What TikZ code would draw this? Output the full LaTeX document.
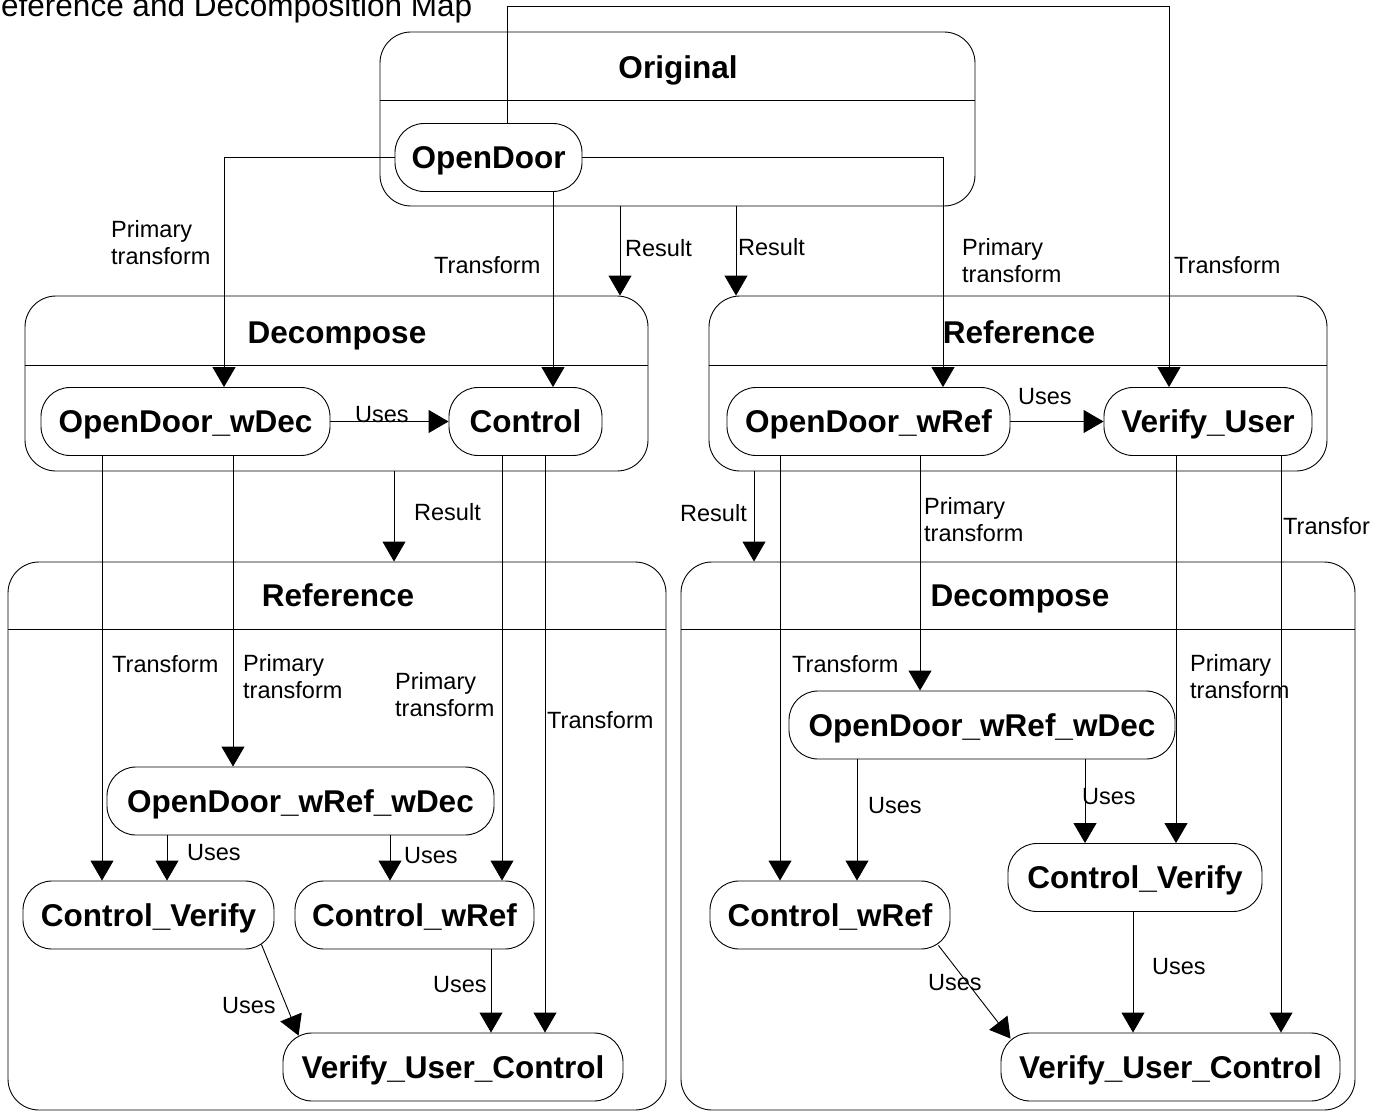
\documentclass[tikz,border=0pt]{standalone}
\usepackage{fontspec}
\setmainfont{Liberation Sans}
\usetikzlibrary{arrows.meta,calc}
\begin{document}
\begin{tikzpicture}[x=1pt,y=-1pt,
  frame/.style={draw, rounded corners=31pt, line width=0.9pt, inner sep=0pt},
  pill/.style={draw, fill=white, rounded corners=29pt, line width=0.9pt, inner sep=0pt,
    minimum height=68pt, font=\fontsize{31.5}{36}\selectfont\bfseries,
    text height=22.5pt, text depth=0pt},
  head/.style={font=\fontsize{31.5}{36}\selectfont\bfseries, inner sep=0pt,
    text height=22.5pt, text depth=0pt},
  lbl/.style={font=\fontsize{23.5}{27}\selectfont, inner sep=0pt, anchor=west, align=left},
  conn/.style={line width=0.9pt},
  arr/.style={line width=0.9pt, -{Triangle[width=23pt,length=20pt]}}
]
\useasboundingbox (0,0) rectangle (1385,1113);
\clip (0,0) rectangle (1385,1113);

% page heading
\node[font=\fontsize{31.5}{36}\selectfont, anchor=base west, inner sep=0pt] (title) at (1,17)
  {eference and Decomposition Map};

% ---- containers: rounded frame, header rule, title ----
\node[frame, minimum width=595pt, minimum height=174pt] (orig) at (677.5,119) {};
\draw[conn] (orig.west |- 0,100) -- (orig.east |- 0,100);
\node[head] (origT) at (678,67) {Original};

\node[frame, minimum width=623pt, minimum height=175pt] (decA) at (336.5,383.5) {};
\draw[conn] (decA.west |- 0,365) -- (decA.east |- 0,365);
\node[head] (decAT) at (337,332) {Decompose};

\node[frame, minimum width=618pt, minimum height=175pt] (refA) at (1018,383.5) {};
\draw[conn] (refA.west |- 0,365) -- (refA.east |- 0,365);
\node[head] (refAT) at (1019,332) {Reference};

\node[frame, minimum width=658pt, minimum height=548pt] (refB) at (337,836) {};
\draw[conn] (refB.west |- 0,629) -- (refB.east |- 0,629);
\node[head] (refBT) at (338,595) {Reference};

\node[frame, minimum width=674pt, minimum height=548pt] (decB) at (1018,836) {};
\draw[conn] (decB.west |- 0,629) -- (decB.east |- 0,629);
\node[head] (decBT) at (1020,595) {Decompose};

% ---- states ----
\node[pill, minimum width=187pt] (od)     at (488.5,157.5) {OpenDoor};
\node[pill, minimum width=289pt] (odwdec) at (185.5,421.5) {OpenDoor\_wDec};
\node[pill, minimum width=153pt] (ctrl)   at (525.5,421.5) {Control};
\node[pill, minimum width=283pt] (odwref) at (868.5,421.5) {OpenDoor\_wRef};
\node[pill, minimum width=208pt] (vu)     at (1208,421.5)  {Verify\_User};

\node[pill, minimum width=387pt] (odrdA) at (300.5,801) {OpenDoor\_wRef\_wDec};
\node[pill, minimum width=251pt] (cvA)   at (148.5,915) {Control\_Verify};
\node[pill, minimum width=239pt] (cwA)   at (414.5,915) {Control\_wRef};
\node[pill, minimum width=340pt] (vucA)  at (453,1067)  {Verify\_User\_Control};

\node[pill, minimum width=386pt] (odrdB) at (982,725)    {OpenDoor\_wRef\_wDec};
\node[pill, minimum width=254pt] (cvB)   at (1135,877.5) {Control\_Verify};
\node[pill, minimum width=240pt] (cwB)   at (830,915)    {Control\_wRef};
\node[pill, minimum width=339pt] (vucB)  at (1170.5,1067){Verify\_User\_Control};

% ---- connectors from OpenDoor ----
\coordinate (topr) at (1169,6);
\draw[arr] (od.north -| 507,0) |- (topr) -- (vu.north -| topr);
\draw[arr] (od.west) -| (odwdec.north -| 224,0);
\draw[arr] (od.east) -| (odwref.north -| 943,0);
\draw[arr] (od.south -| 553,0) -- (ctrl.north -| 553,0);
\draw[arr] (orig.south -| 620,0) -- (decA.north -| 620,0);
\draw[arr] (orig.south -| 736,0) -- (refA.north -| 736,0);

% ---- second row ----
\draw[arr] (odwdec.east) -- (ctrl.west);
\draw[arr] (odwref.east) -- (vu.west);
\draw[arr] (decA.south -| 394,0) -- (refB.north -| 394,0);
\draw[arr] (refA.south -| 754,0) -- (decB.north -| 754,0);

% ---- into the lower left frame ----
\draw[arr] (odwdec.south -| 102,0) -- (cvA.north -| 102,0);
\draw[arr] (odwdec.south -| 233,0) -- (odrdA.north -| 233,0);
\draw[arr] (ctrl.south -| 502,0) -- (cwA.north -| 502,0);
\draw[arr] (ctrl.south -| 545,0) -- (vucA.north -| 545,0);
\draw[arr] (odrdA.south -| 167,0) -- (cvA.north -| 167,0);
\draw[arr] (odrdA.south -| 390,0) -- (cwA.north -| 390,0);
\draw[arr] ($(cvA.south east)+(-13,-5)$) -- ($(vucA.north west)+(16,3)$);
\draw[arr] (cwA.south -| 491,0) -- (vucA.north -| 491,0);

% ---- into the lower right frame ----
\draw[arr] (odwref.south -| 780,0) -- (cwB.north -| 780,0);
\draw[arr] (odwref.south -| 920,0) -- (odrdB.north -| 920,0);
\draw[arr] (vu.south -| 1176,0) -- (cvB.north -| 1176,0);
\draw[arr] (vu.south -| 1281,0) -- (vucB.north -| 1281,0);
\draw[arr] (odrdB.south -| 857,0) -- (cwB.north -| 857,0);
\draw[arr] (odrdB.south -| 1085,0) -- (cvB.north -| 1085,0);
\draw[arr] (cvB.south -| 1133,0) -- (vucB.north -| 1133,0);
\draw[arr] ($(cwB.south east)+(-12,-4)$) -- ($(vucB.north west)+(10,6)$);

% ---- connector labels ----
\node[lbl] (lpt1) at (111,243) {Primary\\transform};
\node[lbl] (lt1)  at (434,265) {Transform};
\node[lbl] (lr1)  at (625,248) {Result};
\node[lbl] (lr2)  at (738,247) {Result};
\node[lbl] (lpt2) at (962,261) {Primary\\transform};
\node[lbl] (lt2)  at (1174,265) {Transform};
\node[lbl] (lu1)  at (355,415) {Uses};
\node[lbl] (lu2)  at (1018,397) {Uses};
\node[lbl] (lr3)  at (414,512) {Result};
\node[lbl] (lr4)  at (680,513) {Result};
\node[lbl] (lpt3) at (924,520) {Primary\\transform};
\node[lbl] (lt3)  at (1283,526) {Transfor};

\node[lbl] (lt4)  at (112,664) {Transform};
\node[lbl] (lpt4) at (243,677) {Primary\\transform};
\node[lbl] (lpt5) at (395,695) {Primary\\transform};
\node[lbl] (lt5)  at (547,720) {Transform};
\node[lbl] (lu3)  at (187,853) {Uses};
\node[lbl] (lu4)  at (404,856) {Uses};
\node[lbl] (lu5)  at (222,1006) {Uses};
\node[lbl] (lu6)  at (433,985) {Uses};

\node[lbl] (lt6)  at (792,664) {Transform};
\node[lbl] (lpt6) at (1190,677) {Primary\\transform};
\node[lbl] (lu7)  at (868,806) {Uses};
\node[lbl] (lu8)  at (1082,797) {Uses};
\node[lbl] (lu9)  at (928,983) {Uses};
\node[lbl] (lu10) at (1152,967) {Uses};
\end{tikzpicture}
\end{document}
